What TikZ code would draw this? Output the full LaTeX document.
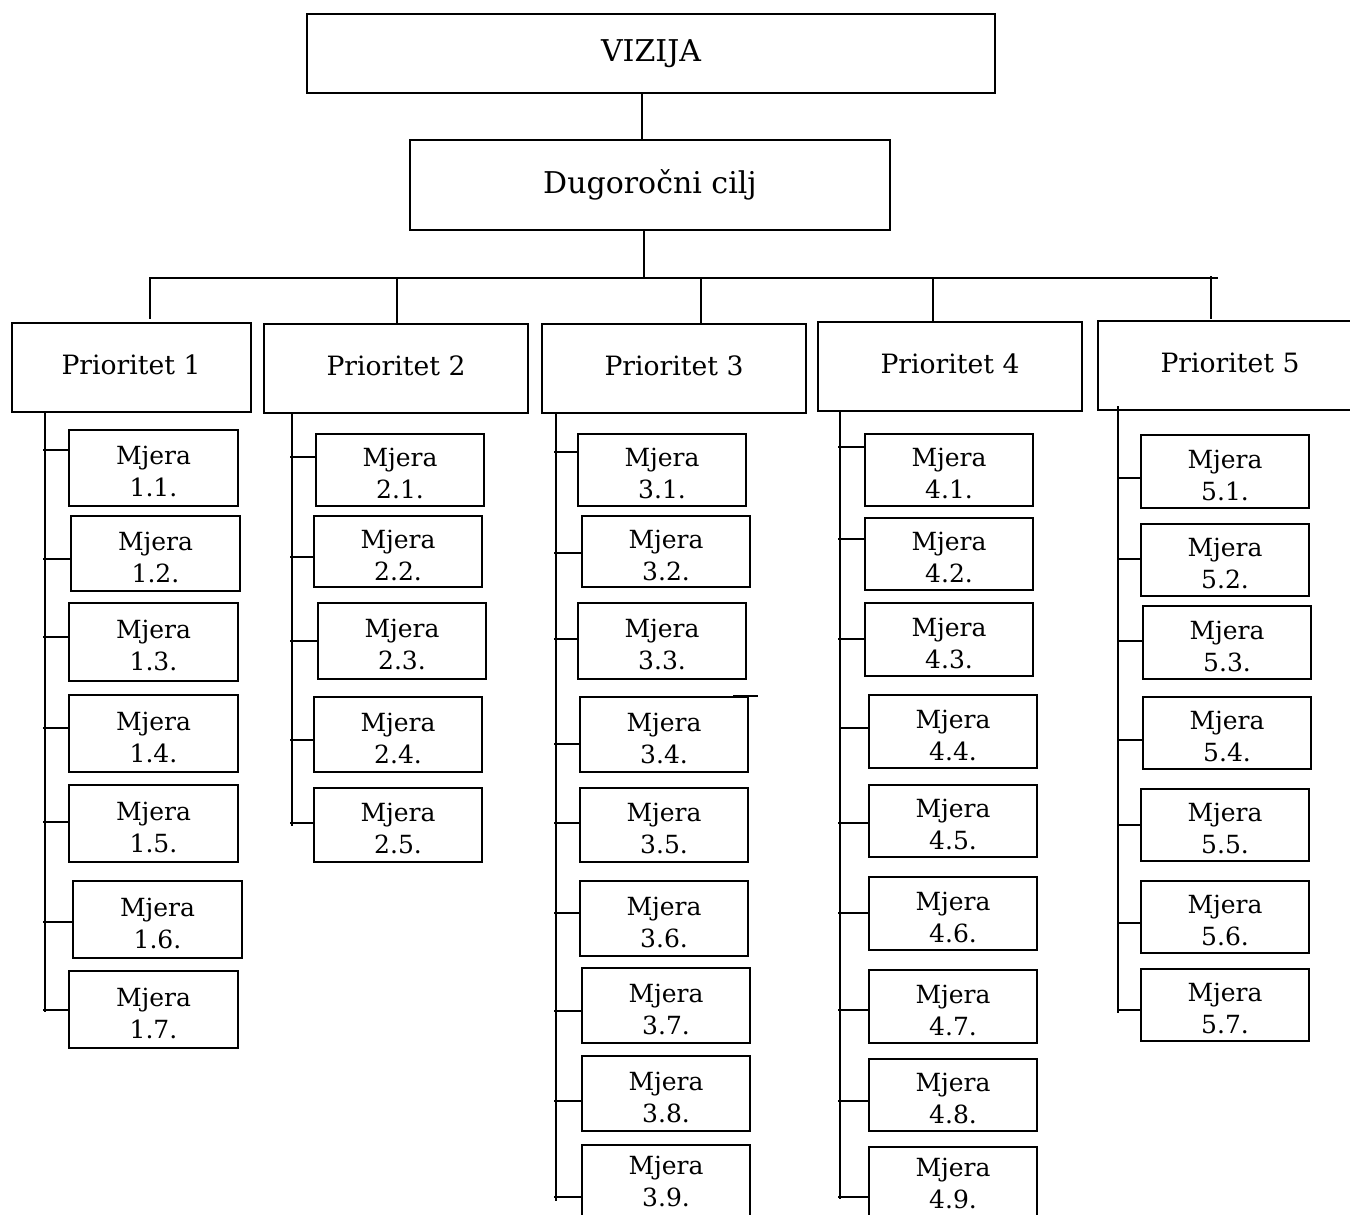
\documentclass[tikz,border=0pt]{standalone}
\usepackage{fontspec}
\setmainfont{DejaVu Serif}
\tikzset{
  ln/.style={line width=1pt,black},
  topbox/.style={draw,line width=1pt,rectangle,inner sep=0pt,font=\fontsize{15}{18}\selectfont},
  pribox/.style={draw,line width=1pt,rectangle,inner sep=0pt},
  pritext/.style={inner sep=0pt,font=\fontsize{13.3}{16}\selectfont},
  mjbox/.style={draw,line width=1pt,rectangle,inner sep=0pt},
  mjtext/.style={inner sep=0pt,align=center,font=\fontsize{12.5}{16}\selectfont},
}
% name, x1, y1, x2, y2, label, trunk x, stub y
\newcommand\mjnode[8]{%
  \node[mjbox,minimum width={(#4-#2)*0.5pt},minimum height={(#5-#3)*0.5pt}] (#1) at ({(#2+#4)/2},{(#3+#5)/2}) {};
  \node[mjtext] (#1t) at ([yshift=-1.75pt]#1.center) {Mjera\\#6};
  \draw[ln] (#1.west |- 0,#8) -- (#7-2,#8);
}
% box whose lower edge lies below the page: text placed from the top
\newcommand\mjlow[8]{%
  \node[mjbox,minimum width={(#4-#2)*0.5pt},minimum height={(#5-#3)*0.5pt}] (#1) at ({(#2+#4)/2},{(#3+#5)/2}) {};
  \node[mjtext,anchor=north] (#1t) at ([yshift=-6pt]#1.north) {Mjera\\#6};
  \draw[ln] (#1.west |- 0,#8) -- (#7-2,#8);
}
\begin{document}
\begin{tikzpicture}[x=0.5pt,y=-0.5pt]
\useasboundingbox (0,0) rectangle (1350,1215);
\fill[white] (0,0) rectangle (1350,1215);

% top
\node[topbox,minimum width={688*0.5pt},minimum height={79*0.5pt}] (viz) at (651,53.5) {VIZIJA};
\node[topbox,minimum width={480*0.5pt},minimum height={90*0.5pt}] (cilj) at (650,185) {Dugoročni cilj};
\draw[ln] (viz.south -| 642,0) -- (cilj.north -| 642,0);
\coordinate (busL) at (149,278);
\coordinate (busR) at (1218,278);
\draw[ln] (cilj.south -| 644,0) -- (644,278);
\draw[ln] (busL) -- (busR);

% priorities
\node[pribox,minimum width={239*0.5pt},minimum height={89*0.5pt}] (p1) at (131.5,367.5) {};
\node[pribox,minimum width={264*0.5pt},minimum height={89*0.5pt}] (p2) at (396,368.5) {};
\node[pribox,minimum width={264*0.5pt},minimum height={89*0.5pt}] (p3) at (674,368.5) {};
\node[pribox,minimum width={264*0.5pt},minimum height={89*0.5pt}] (p4) at (950,366.5) {};
\node[pribox,minimum width={256*0.5pt},minimum height={89*0.5pt}] (p5) at (1226,365.5) {};
\node[pritext] (p1t) at (131,365) {Prioritet 1};
\node[pritext] (p2t) at (396,366) {Prioritet 2};
\node[pritext] (p3t) at (674,366) {Prioritet 3};
\node[pritext] (p4t) at (950,364) {Prioritet 4};
\node[pritext] (p5t) at (1230,363) {Prioritet 5};

\draw[ln] (busL -| 150,0) -- (150,319);
\draw[ln] (397,278) -- (p2.north -| 397,0);
\draw[ln] (701,278) -- (p3.north -| 701,0);
\draw[ln] (933,278) -- (p4.north -| 933,0);
\draw[ln] (1211,276) -- (1211,319);

% trunks
\draw[ln] (p1.south -| 45,0) -- (45,1012);
\draw[ln] (p2.south -| 292,0) -- (292,826);
\draw[ln] (p3.south -| 556,0) -- (556,1201);
\draw[ln] (p4.south -| 840,0) -- (840,1199);
\draw[ln] (1118,406) -- (1118,1013);

% column 1
\mjnode{m11}{69}{430}{238}{506}{1.1.}{45}{450}
\mjnode{m12}{71}{516}{240}{591}{1.2.}{45}{559}
\mjnode{m13}{69}{603}{238}{681}{1.3.}{45}{637}
\mjnode{m14}{69}{695}{238}{772}{1.4.}{45}{728}
\mjnode{m15}{69}{785}{238}{862}{1.5.}{45}{822}
\mjnode{m16}{73}{881}{242}{958}{1.6.}{45}{922}
\mjnode{m17}{69}{971}{238}{1048}{1.7.}{45}{1010}

% column 2
\mjnode{m21}{316}{434}{484}{506}{2.1.}{292}{457}
\mjnode{m22}{314}{516}{482}{587}{2.2.}{292}{557}
\mjnode{m23}{318}{603}{486}{679}{2.3.}{292}{641}
\mjnode{m24}{314}{697}{482}{772}{2.4.}{292}{740}
\mjnode{m25}{314}{788}{482}{862}{2.5.}{292}{823}

% column 3
\mjnode{m31}{578}{434}{746}{506}{3.1.}{556}{452}
\mjnode{m32}{582}{516}{750}{587}{3.2.}{556}{553}
\mjnode{m33}{578}{603}{746}{679}{3.3.}{556}{639}
\mjnode{m34}{580}{697}{748}{772}{3.4.}{556}{744}
\mjnode{m35}{580}{788}{748}{862}{3.5.}{556}{823}
\mjnode{m36}{580}{881}{748}{956}{3.6.}{556}{913}
\mjnode{m37}{582}{968}{750}{1043}{3.7.}{556}{1011}
\mjnode{m38}{582}{1056}{750}{1131}{3.8.}{556}{1101}
\mjlow{m39}{582}{1145}{750}{1224}{3.9.}{556}{1197}
\draw[ln] (m34.north east) ++(-16,0) -- ++(25,0);

% column 4
\mjnode{m41}{865}{434}{1033}{506}{4.1.}{840}{447}
\mjnode{m42}{865}{518}{1033}{590}{4.2.}{840}{539}
\mjnode{m43}{865}{603}{1033}{676}{4.3.}{840}{639}
\mjnode{m44}{869}{695}{1037}{768}{4.4.}{843}{728}
\mjnode{m45}{869}{785}{1037}{857}{4.5.}{840}{823}
\mjnode{m46}{869}{877}{1037}{950}{4.6.}{840}{913}
\mjnode{m47}{869}{970}{1037}{1043}{4.7.}{840}{1010}
\mjnode{m48}{869}{1059}{1037}{1131}{4.8.}{840}{1101}
\mjlow{m49}{869}{1147}{1037}{1226}{4.9.}{840}{1197}

% column 5
\mjnode{m51}{1141}{435}{1309}{508}{5.1.}{1120}{478}
\mjnode{m52}{1141}{524}{1309}{596}{5.2.}{1120}{559}
\mjnode{m53}{1143}{606}{1311}{679}{5.3.}{1120}{641}
\mjnode{m54}{1143}{697}{1311}{769}{5.4.}{1120}{740}
\mjnode{m55}{1141}{789}{1309}{861}{5.5.}{1120}{825}
\mjnode{m56}{1141}{881}{1309}{953}{5.6.}{1120}{923}
\mjnode{m57}{1141}{969}{1309}{1041}{5.7.}{1120}{1010}
\end{tikzpicture}
\end{document}
